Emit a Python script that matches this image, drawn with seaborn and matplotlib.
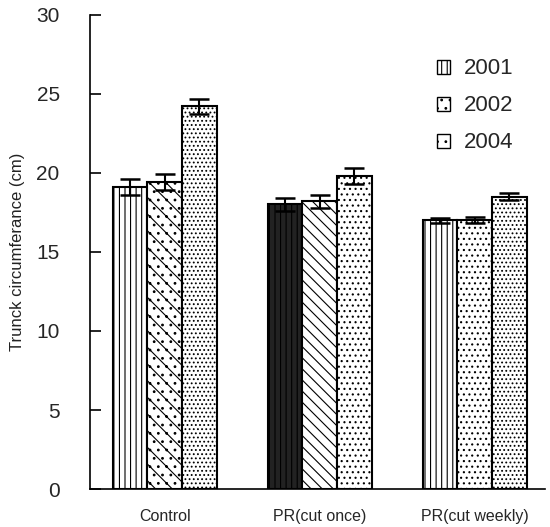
import matplotlib
matplotlib.use("Agg")
import matplotlib.pyplot as plt
from matplotlib.patches import Patch
import seaborn as sns
import pandas as pd

# values
groups = ["Control", "PR(cut once)", "PR(cut weekly)"]
years = ["2001", "2002", "2004"]
y2001 = [19.1, 18.0, 17.0]
y2002 = [19.4, 18.2, 17.0]
y2004 = [24.2, 19.8, 18.5]
e2001 = [0.5, 0.4, 0.15]
e2002 = [0.5, 0.4, 0.2]
e2004 = [0.5, 0.5, 0.2]

rows = []
for yr, vals, errs in zip(years, [y2001, y2002, y2004], [e2001, e2002, e2004]):
    for g, v, e in zip(groups, vals, errs):
        rows.append({"group": g, "year": yr, "value": v, "err": e})
df = pd.DataFrame(rows)

sns.set_style("white")
plt.rcParams["font.family"] = ["Liberation Sans", "DejaVu Sans"]
plt.rcParams["hatch.linewidth"] = 0.8

fig = plt.figure(figsize=(5.5, 5.27), dpi=100)
ax = fig.add_axes([0.164, 0.072, 0.826, 0.9])

sns.barplot(data=df, x="group", y="value", hue="year", order=groups,
            hue_order=years, errorbar=None, width=0.67, color="white",
            edgecolor="black", linewidth=1.5, legend=False, ax=ax)

# hatch per bar (year, group)
hatches = {
    "2001": ["|||", "|||", "|||"],
    "2002": ["\\\\..", "\\\\\\", "..."],
    "2004": ["....", "...", "...."],
}
for yr, cont in zip(years, ax.containers):
    sub = df[df.year == yr].set_index("group").loc[groups]
    for i, bar in enumerate(cont):
        bar.set_facecolor("white")
        bar.set_hatch(hatches[yr][i])
        if yr == "2001" and i == 1:
            bar.set_facecolor("#222222")
        x = bar.get_x() + bar.get_width() / 2
        ax.errorbar(x, sub["value"].iloc[i], yerr=sub["err"].iloc[i],
                    fmt="none", ecolor="black", elinewidth=1.5,
                    capsize=7, capthick=1.8, zorder=5)

ax.set_xlim(-0.48, 2.45)
ax.set_ylim(0, 30)
ax.set_yticks(range(0, 31, 5))
ax.tick_params(axis="y", left=True, direction="in", length=8, width=1.2,
               color="black", labelsize=15, pad=22)
ax.tick_params(axis="x", bottom=False, length=0, labelsize=11.5, pad=14)
ax.set_xlabel("")
ax.set_ylabel("Trunck circumferance (cm)", fontsize=12, color="#222222", labelpad=8)
ax.spines["top"].set_visible(False)
ax.spines["right"].set_visible(False)
for s in ["left", "bottom"]:
    ax.spines[s].set_color("black")
    ax.spines[s].set_linewidth(1.2)

handles = [Patch(facecolor="white", edgecolor="black", hatch=h, label=yr)
           for yr, h in zip(years, ["|||", "..", ".."])]
ax.legend(handles=handles, loc="upper right", bbox_to_anchor=(0.975, 0.95),
          frameon=False, fontsize=16, handlelength=0.6, handleheight=0.6,
          handletextpad=0.6, labelspacing=0.72)

fig.savefig("out.png", dpi=100)
